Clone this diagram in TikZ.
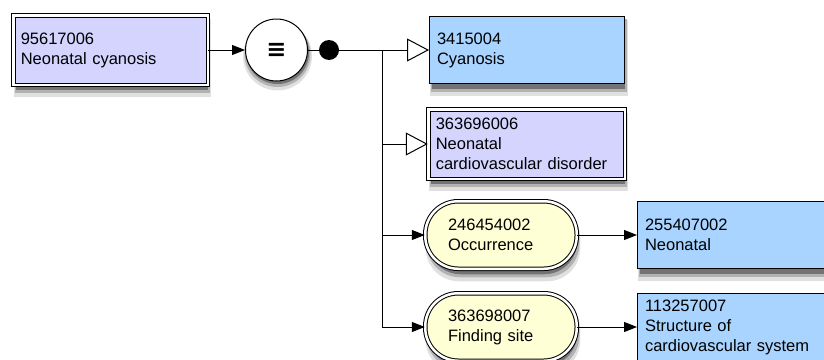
\documentclass[tikz,border=0pt]{standalone}
\usepackage{fontspec}
\setmainfont{Liberation Sans}
\newfontfamily\symbolfont{DejaVu Sans}
\usetikzlibrary{arrows.meta,calc,backgrounds}

\definecolor{definedfill}{RGB}{212,212,255}
\definecolor{primitivefill}{RGB}{168,212,255}
\definecolor{attributefill}{RGB}{255,255,214}

\begin{document}
\begin{tikzpicture}[
  x=1pt, y=-1pt,
  font=\fontsize{16.5}{20}\selectfont,
  concept_box/.style={
    draw, line width=1pt, align=left, inner xsep=7.5pt, inner ysep=2pt
  },
  defined_concept/.style={
    concept_box, fill=definedfill, double=white, double distance=2.5pt,
    minimum height=69.5pt
  },
  primitive_concept/.style={
    concept_box, fill=primitivefill, text width=180pt, minimum height=67pt
  },
  attribute/.style={
    concept_box, fill=attributefill, double=white, double distance=2.5pt,
    rounded corners=33pt, inner xsep=0pt, text width=106pt,
    minimum width=151.5pt, minimum height=67.5pt
  },
  fill_arrow/.style={
    line width=1pt, -{Triangle[length=13pt,width=10pt]}
  },
  open_arrow/.style={
    line width=1pt, -{Triangle[open,length=22pt,width=23pt]}
  }]
  \useasboundingbox (0,0) rectangle (824,359);
  %
  \node[defined_concept, text width=179.5pt] (c_95617006) at (110.5,50)
    {95617006\\Neonatal cyanosis};
  \node[draw, circle, fill=white, line width=1pt, minimum size=62pt, inner sep=0pt]
    (equiv) at (276.5,50) {\symbolfont\bfseries\fontsize{24}{24}\selectfont ≡};
  \node[circle, fill=black, minimum size=20pt, inner sep=0pt] (group) at (329,50) {};
  \coordinate (trunk) at (382,50);
  %
  \node[primitive_concept] (c_3415004) at (527,50) {3415004\\Cyanosis};
  \node[defined_concept, text width=181.5pt] (c_363696006) at (526.5,144)
    {363696006\\Neonatal\\cardiovascular disorder};
  %
  \foreach \id/\y/\attr/\attrname/\val/\valname in {
      occ/235/246454002/{Occurrence}/255407002/{Neonatal},
      site/327/363698007/{Finding site}/113257007/{Structure of\\cardiovascular system}} {
    \node[attribute] (attr_\id) at (501,\y) {\attr\\\attrname};
    \node[primitive_concept] (val_\id) at (735,\y) {\val\\\valname};
    \draw[fill_arrow] (trunk) |- (attr_\id);
    \draw[fill_arrow] (attr_\id) -- (val_\id);
  }
  %
  \draw[fill_arrow] (c_95617006) -- (equiv);
  \draw[line width=1pt] (equiv) -- (group);
  \draw[open_arrow] (group) -- (c_3415004);
  \draw[open_arrow] (trunk) |- (c_363696006);
  %
  % soft shadows under the boxes, three shades each
  \begin{pgfonlayer}{background}
    \foreach \shade/\l/\t/\r/\b in {12/1/4/3/12, 30/2/3/2/8, 55/3/2/0/5} {
      \foreach \n in {c_95617006,c_3415004,c_363696006,val_occ,val_site}
        \fill[black!\shade] ($(\n.north west)+(\l,\t)$) rectangle ($(\n.south east)+(\r,\b)$);
      \foreach \n in {attr_occ,attr_site}
        \fill[black!\shade, rounded corners=33pt]
          ($(\n.north west)+(\l,\t)$) rectangle ($(\n.south east)+(\r,\b)$);
      \fill[black!\shade] ($(equiv.center)+(1,\b/2)$) circle ({31+\t-\l/2});
    }
  \end{pgfonlayer}
\end{tikzpicture}
\end{document}
